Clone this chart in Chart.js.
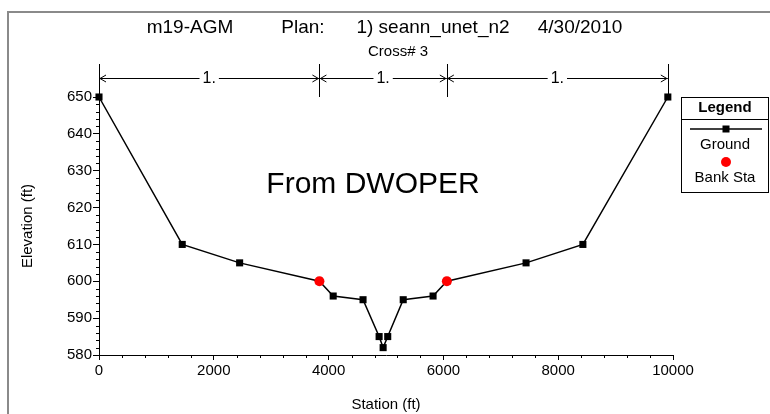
<!DOCTYPE html>
<html>
<head>
<meta charset="utf-8">
<script src="https://cdn.jsdelivr.net/npm/chart.js@4"></script>
<style>
  body { margin: 0; background: #fff; }
  #wrap { width: 770px; height: 414px; position: relative; }
</style>
</head>
<body>
<div id="wrap"><canvas id="xsChart" width="770" height="414"></canvas></div>
<script>
// Cross section data
const groundStation = [0, 1450, 2450, 3840, 4080, 4600, 4880, 4950, 5030, 5300, 5820, 6060, 7440, 8430, 9910];
const groundElev    = [650, 610, 605, 600, 596, 595, 585, 582, 585, 595, 596, 600, 605, 610, 650];
const bankStation = [3840, 6060];
const bankElev    = [600, 600];
// Manning's n breaks drawn above the plot
const nStations = [0, 3840, 6060, 9910];
const nLabels = ['1.', '1.', '1.'];
const yTicks = [580, 590, 600, 610, 620, 630, 640, 650];
const xTicks = [0, 2000, 4000, 6000, 8000, 10000];

const FONT = 'Liberation Sans, Arial, sans-serif';

const headerPlugin = {
  id: 'header',
  afterDraw(chart) {
    const c = chart.ctx;
    const xs = chart.scales.x;
    const area = chart.chartArea;
    c.save();
    // outer frame
    c.strokeStyle = '#8a8a8a';
    c.lineWidth = 2;
    c.beginPath();
    c.moveTo(8, 414); c.lineTo(8, 12); c.lineTo(770, 12);
    c.stroke();

    c.fillStyle = '#000';
    c.textBaseline = 'middle';
    c.textAlign = 'center';
    c.font = '19px ' + FONT;
    c.fillText('m19-AGM', 190, 28);
    c.fillText('Plan:', 303, 28);
    c.fillText('1) seann_unet_n2', 433, 28);
    c.fillText('4/30/2010', 580, 28);
    c.font = '15px ' + FONT;
    c.fillText('Cross# 3', 398, 52);

    // n value dimension lines
    c.strokeStyle = '#000';
    c.lineWidth = 1;
    const yArr = 78;
    nStations.forEach(s => {
      const px = Math.round(xs.getPixelForValue(s)) + 0.5;
      c.beginPath(); c.moveTo(px, 64); c.lineTo(px, area.top); c.stroke();
    });
    c.font = '16px ' + FONT;
    for (let i = 0; i < nLabels.length; i++) {
      const a = xs.getPixelForValue(nStations[i]);
      const b = xs.getPixelForValue(nStations[i + 1]);
      const mid = (a + b) / 2;
      const w = c.measureText(nLabels[i]).width / 2 + 3;
      c.beginPath();
      c.moveTo(a, yArr + 0.5); c.lineTo(mid - w, yArr + 0.5);
      c.moveTo(mid + w, yArr + 0.5); c.lineTo(b, yArr + 0.5);
      // arrow heads
      c.moveTo(a + 7, yArr - 3); c.lineTo(a + 1, yArr + 0.5); c.lineTo(a + 7, yArr + 4);
      c.moveTo(b - 7, yArr - 3); c.lineTo(b - 1, yArr + 0.5); c.lineTo(b - 7, yArr + 4);
      c.stroke();
      c.fillText(nLabels[i], mid, yArr + 1);
    }

    // text inside plot
    c.font = '30px ' + FONT;
    c.fillText('From DWOPER', 373, 185);

    // legend box
    const L = 681, T = 97, R = 769, B = 193;
    c.fillStyle = '#fff';
    c.fillRect(L, T, R - L, B - T);
    c.strokeStyle = '#000';
    c.lineWidth = 1;
    c.strokeRect(L + 0.5, T + 0.5, R - L - 1, B - T - 1);
    c.beginPath(); c.moveTo(L, 119.5); c.lineTo(R, 119.5); c.stroke();
    c.fillStyle = '#000';
    c.font = 'bold 15px ' + FONT;
    c.fillText('Legend', 725, 108);
    c.font = '15px ' + FONT;
    c.lineWidth = 1.5;
    c.beginPath(); c.moveTo(690, 129); c.lineTo(762, 129); c.stroke();
    c.fillRect(722.5, 125.5, 7, 7);
    c.fillText('Ground', 725, 145);
    c.fillStyle = '#ff0000';
    c.beginPath(); c.arc(726, 162, 5, 0, Math.PI * 2); c.fill();
    c.fillStyle = '#000';
    c.fillText('Bank Sta', 725, 178);
    c.restore();
  }
};

// short minor ticks between the labelled ones
const minorTicks = {
  id: 'minorTicks',
  afterDraw(chart) {
    const c = chart.ctx;
    const xs = chart.scales.x, ys = chart.scales.y;
    const area = chart.chartArea;
    c.save();
    c.strokeStyle = '#000';
    c.lineWidth = 1;
    c.beginPath();
    for (let v = 580; v <= 650; v += 2) {
      if (v % 10 === 0) continue;
      const py = Math.round(ys.getPixelForValue(v)) + 0.5;
      c.moveTo(area.left - 3, py); c.lineTo(area.left, py);
    }
    for (let v = 0; v <= 10000; v += 400) {
      if (v % 2000 === 0) continue;
      const px = Math.round(xs.getPixelForValue(v)) + 0.5;
      c.moveTo(px, area.bottom); c.lineTo(px, area.bottom + 3);
    }
    c.stroke();
    c.restore();
  }
};

const ctx = document.getElementById('xsChart').getContext('2d');
const xsChart = new Chart(ctx, {
  type: 'scatter',
  data: {
    datasets: [{
      label: 'Bank Sta',
      data: bankStation.map((s, i) => ({ x: s, y: bankElev[i] })),
      showLine: false,
      pointStyle: 'circle',
      pointRadius: 5,
      backgroundColor: '#ff0000',
      borderColor: '#ff0000',
      borderWidth: 0,
      clip: false
    }, {
      label: 'Ground',
      data: groundStation.map((s, i) => ({ x: s, y: groundElev[i] })),
      showLine: true,
      borderColor: '#000',
      borderWidth: 1.5,
      pointStyle: 'rect',
      pointRadius: 5,
      pointBackgroundColor: '#000',
      pointBorderColor: '#000',
      pointBorderWidth: 0,
      clip: false
    }]
  },
  options: {
    responsive: false,
    animation: false,
    layout: { padding: { left: 0, top: 97, right: 97, bottom: 0 } },
    plugins: {
      legend: { display: false },
      tooltip: { enabled: false }
    },
    scales: {
      x: {
        type: 'linear',
        min: 0, max: 10000,
        afterBuildTicks: s => { s.ticks = xTicks.map(v => ({ value: v })); },
        afterFit: s => { s.height = 59; },
        grid: { drawOnChartArea: false, tickLength: 5, color: '#000' },
        border: { color: '#000', width: 1 },
        ticks: { color: '#000', font: { family: FONT, size: 15 }, padding: 2, maxRotation: 0, autoSkip: false,
                 callback: v => String(v) },
        title: { display: true, text: 'Station (ft)', color: '#000', font: { family: FONT, size: 15 }, padding: { top: 0, bottom: 0 } }
      },
      y: {
        min: 580, max: 650,
        afterBuildTicks: s => { s.ticks = yTicks.map(v => ({ value: v })); },
        afterFit: s => { s.width = 99; },
        grid: { drawOnChartArea: false, tickLength: 6, color: '#000' },
        border: { color: '#000', width: 1 },
        ticks: { color: '#000', font: { family: FONT, size: 15 }, padding: 1, autoSkip: false,
                 callback: v => String(v) },
        title: { display: true, text: 'Elevation (ft)', color: '#000', font: { family: FONT, size: 15 }, padding: { top: 19, bottom: 0 } }
      }
    }
  },
  plugins: [headerPlugin, minorTicks]
});
</script>
</body>
</html>
